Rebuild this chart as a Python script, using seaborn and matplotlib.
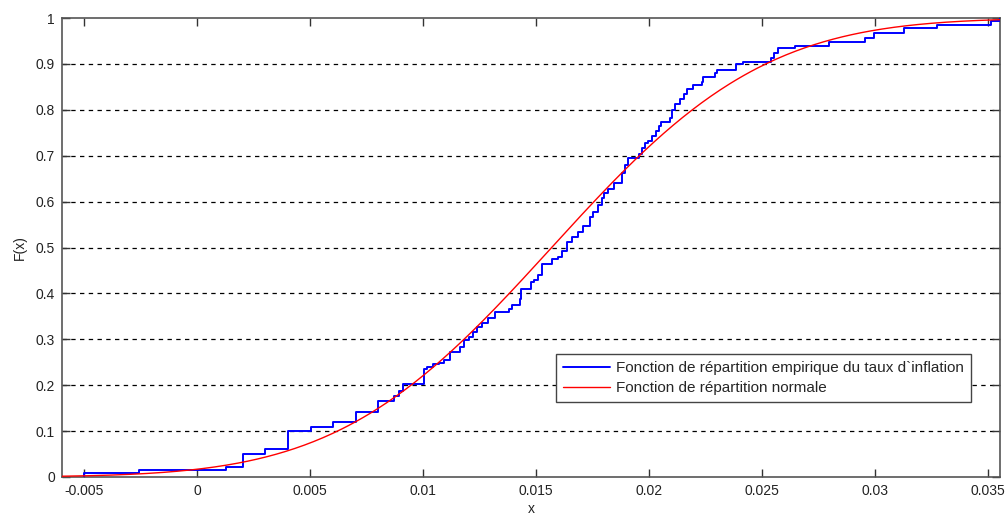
import numpy as np
import pandas as pd
import matplotlib
matplotlib.use("Agg")
import matplotlib.pyplot as plt
import seaborn as sns
from math import erf, sqrt

# --- data ---
# empirical CDF: jump positions (x) and level after each jump (F)
ecdf_x = [-0.00500, -0.00256, 0.00126, 0.00204, 0.00299, 0.00403, 0.00504, 0.00604,
          0.00705, 0.00802, 0.00873, 0.00896, 0.00911, 0.01004, 0.01020, 0.01044,
          0.01073, 0.01095, 0.01118, 0.01162, 0.01182, 0.01202, 0.01222, 0.01241,
          0.01262, 0.01288, 0.01321, 0.01380, 0.01395, 0.01429, 0.01436, 0.01477,
          0.01492, 0.01510, 0.01528, 0.01572, 0.01599, 0.01617, 0.01636, 0.01658,
          0.01688, 0.01710, 0.01739, 0.01754, 0.01777, 0.01791, 0.01803, 0.01818,
          0.01845, 0.01880, 0.01896, 0.01909, 0.01956, 0.01969, 0.01982, 0.01996,
          0.02013, 0.02031, 0.02044, 0.02055, 0.02093, 0.02102, 0.02117, 0.02139,
          0.02154, 0.02171, 0.02194, 0.02235, 0.02241, 0.02292, 0.02302, 0.02386,
          0.02417, 0.02542, 0.02554, 0.02574, 0.02647, 0.02799, 0.02958, 0.02998,
          0.03132, 0.03274, 0.03516, 0.03555]
ecdf_F = [0.0081, 0.0153, 0.0207, 0.0501, 0.0617, 0.1002, 0.1083, 0.1209,
          0.1420, 0.1656, 0.1765, 0.1874, 0.2020, 0.2346, 0.2397, 0.2462,
          0.2490, 0.2549, 0.2730, 0.2826, 0.2985, 0.3057, 0.3166, 0.3275,
          0.3349, 0.3458, 0.3601, 0.3660, 0.3747, 0.3871, 0.4089, 0.4255,
          0.4292, 0.4401, 0.4641, 0.4743, 0.4800, 0.4930, 0.5126, 0.5235,
          0.5344, 0.5468, 0.5671, 0.5780, 0.5926, 0.6072, 0.6181, 0.6275,
          0.6399, 0.6616, 0.6797, 0.6939, 0.7037, 0.7161, 0.7266, 0.7320,
          0.7429, 0.7538, 0.7647, 0.7741, 0.7815, 0.7985, 0.8126, 0.8246,
          0.8344, 0.8464, 0.8540, 0.8606, 0.8721, 0.8795, 0.8867, 0.8998,
          0.9048, 0.9122, 0.9231, 0.9340, 0.9390, 0.9477, 0.9571, 0.9673,
          0.9793, 0.9858, 0.9935, 1.0000]

# fitted normal distribution parameters
norm_mu = 0.0157
norm_sigma = 0.0074

x_limits = [-0.00598, 0.03555]
x_ticks = [-0.005, 0, 0.005, 0.01, 0.015, 0.02, 0.025, 0.03, 0.035]
x_tick_labels = ["-0.005", "0", "0.005", "0.01", "0.015", "0.02", "0.025", "0.03", "0.035"]
y_ticks = [0, 0.1, 0.2, 0.3, 0.4, 0.5, 0.6, 0.7, 0.8, 0.9, 1]
y_tick_labels = ["0", "0.1", "0.2", "0.3", "0.4", "0.5", "0.6", "0.7", "0.8", "0.9", "1"]

label_emp = "Fonction de répartition empirique du taux d`inflation"
label_norm = "Fonction de répartition normale"

# --- build tables ---
emp_df = pd.DataFrame({"x": [ecdf_x[0]] + ecdf_x, "F": [0.0] + ecdf_F})
xs = np.linspace(x_limits[0], x_limits[1], 400)
norm_df = pd.DataFrame({"x": xs,
                        "F": [0.5 * (1 + erf((v - norm_mu) / (norm_sigma * sqrt(2)))) for v in xs]})

sns.set_theme(style="white")
plt.rcParams["font.family"] = ["Liberation Sans", "DejaVu Sans"]

fig = plt.figure(figsize=(10.05, 5.16), dpi=100)
ax = fig.add_axes([62 / 1005, 39 / 516, 938 / 1005, 459 / 516])

# horizontal dashed grid
for yv in y_ticks[1:-1]:
    ax.axhline(yv, color="black", lw=0.9, ls=(0, (3.5, 3.5)), zorder=0)

sns.lineplot(data=emp_df, x="x", y="F", drawstyle="steps-post", estimator=None,
             sort=False, color="#0000ff", lw=1.4, label=label_emp, ax=ax, zorder=3)
sns.lineplot(data=norm_df, x="x", y="F", estimator=None, sort=False,
             color="#ff0000", lw=1.0, label=label_norm, ax=ax, zorder=4)

ax.set_xlim(x_limits)
ax.set_ylim(0, 1)
ax.set_xticks(x_ticks)
ax.set_xticklabels(x_tick_labels)
ax.set_yticks(y_ticks)
ax.set_yticklabels(y_tick_labels)

spine_col = "#555555"
for s in ax.spines.values():
    s.set_visible(True)
    s.set_color(spine_col)
    s.set_linewidth(1.2)

ax.tick_params(axis="both", which="major", direction="in", length=6, width=1,
               color="#333333", labelsize=10, labelcolor="#222222",
               top=True, right=True, bottom=True, left=True)
ax.tick_params(axis="x", pad=5)
ax.tick_params(axis="y", pad=5)

ax.set_xlabel("x", fontsize=10, color="#222222", labelpad=3)
ax.set_ylabel("F(x)", fontsize=10, color="#222222", labelpad=6)

leg = ax.legend(loc="upper left", bbox_to_anchor=(0.5267, 0.268), fontsize=11,
                frameon=True, fancybox=False, framealpha=1, edgecolor="#444444",
                handlelength=3.1, handletextpad=0.4, borderpad=0.45,
                labelspacing=0.42, borderaxespad=0)
leg.get_frame().set_linewidth(1.0)

fig.savefig("out.png", dpi=100)
